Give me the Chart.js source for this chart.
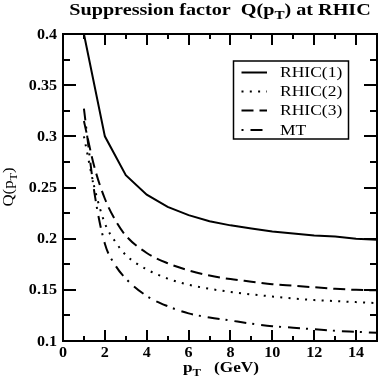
<!DOCTYPE html>
<html>
<head>
<meta charset="utf-8">
<script src="https://cdn.jsdelivr.net/npm/chart.js@4"></script>
<style>
  html, body { margin: 0; padding: 0; background: #fff; }
</style>
</head>
<body>
<canvas id="qChart" width="382" height="382"></canvas>
<script>
// p_T grid (GeV) and Q(p_T) values
const ptCoarse = [1, 2, 3, 4, 5, 6, 7, 8, 9, 10, 11, 12, 13, 14, 15];
const rhic1 = [0.4, 0.3, 0.262, 0.243, 0.231, 0.223, 0.217, 0.213, 0.210, 0.207, 0.205, 0.203, 0.202, 0.200, 0.199];

const ptFine = [1, 1.5, 2, 2.5, 3, 4, 5, 6, 7, 8, 9, 10, 11, 12, 13, 14, 15];
const rhic2 = [0.300, 0.250, 0.215, 0.197, 0.184, 0.170, 0.161, 0.155, 0.151, 0.148, 0.1455, 0.1435, 0.1415, 0.140, 0.139, 0.138, 0.137];
const rhic3 = [0.315, 0.270, 0.239, 0.218, 0.203, 0.186, 0.176, 0.169, 0.164, 0.1605, 0.158, 0.1555, 0.154, 0.1525, 0.151, 0.150, 0.1495];
const mt    = [0.327, 0.245, 0.195, 0.174, 0.161, 0.144, 0.134, 0.127, 0.123, 0.120, 0.117, 0.1145, 0.113, 0.1115, 0.110, 0.109, 0.108];

const xTicks = [0, 2, 4, 6, 8, 10, 12, 14];
const xMinor = [1, 3, 5, 7, 9, 11, 13, 15];
const yTicks = [0.1, 0.15, 0.2, 0.25, 0.3, 0.35, 0.4];
const yTickLabels = ['0.1', '0.15', '0.2', '0.25', '0.3', '0.35', '0.4'];
const yMinor = [0.125, 0.175, 0.225, 0.275, 0.325, 0.375];
const legendLabels = ['RHIC(1)', 'RHIC(2)', 'RHIC(3)', 'MT'];

const dashes = [[], [2, 6.3], [12, 6], [12, 6, 2, 7]];
const SERIF = '"Liberation Serif", "Times New Roman", serif';

function toPoints(xs, ys) {
    return xs.map((x, i) => ({ x: x, y: ys[i] }));
}

// draw text pieces (some as subscripts), stretched horizontally by sx
function drawParts(ctx, parts, x, y, size, weight, align, sx) {
    sx = sx || 1;
    const subSize = Math.round(size * 0.72);
    let total = 0;
    parts.forEach(p => {
        ctx.font = weight + ' ' + (p.sub ? subSize : size) + 'px ' + SERIF;
        p.w = ctx.measureText(p.t).width;
        total += p.w;
    });
    let cx = align === 'center' ? -total / 2 : (align === 'right' ? -total : 0);
    ctx.save();
    ctx.translate(x, y);
    ctx.scale(sx, 1);
    ctx.textAlign = 'left';
    parts.forEach(p => {
        ctx.font = weight + ' ' + (p.sub ? subSize : size) + 'px ' + SERIF;
        ctx.fillText(p.t, cx, p.sub ? size * 0.28 : 0);
        cx += p.w;
    });
    ctx.restore();
}

const framePlugin = {
    id: 'frame',
    afterDatasetsDraw(chart) {
        const ctx = chart.ctx;
        const area = chart.chartArea;
        const xs = chart.scales.x;
        const ys = chart.scales.y;
        ctx.save();
        ctx.strokeStyle = '#000';
        ctx.fillStyle = '#000';

        // frame
        ctx.lineWidth = 2;
        ctx.strokeRect(area.left, area.top, area.right - area.left, area.bottom - area.top);

        // inward ticks on all four sides
        ctx.beginPath();
        xTicks.concat(xMinor).forEach(v => {
            const len = xTicks.includes(v) ? 11 : 5;
            const px = Math.round(xs.getPixelForValue(v));
            ctx.moveTo(px, area.bottom); ctx.lineTo(px, area.bottom - len);
            ctx.moveTo(px, area.top); ctx.lineTo(px, area.top + len);
        });
        yTicks.concat(yMinor).forEach(v => {
            const len = yTicks.includes(v) ? 13 : 7;
            const py = Math.round(ys.getPixelForValue(v));
            ctx.moveTo(area.left, py); ctx.lineTo(area.left + len, py);
            ctx.moveTo(area.right, py); ctx.lineTo(area.right - len, py);
        });
        ctx.stroke();

        // tick labels
        ctx.textBaseline = 'middle';
        yTicks.forEach((v, i) => drawParts(ctx, [{ t: yTickLabels[i] }], area.left - 6,
            ys.getPixelForValue(v) + 1, 14, 'bold', 'right', 1.15));
        xTicks.forEach(v => drawParts(ctx, [{ t: String(v) }], xs.getPixelForValue(v),
            area.bottom + 12, 14, 'bold', 'center', 1.15));

        // title and axis titles
        ctx.textBaseline = 'alphabetic';
        drawParts(ctx, [{ t: 'Suppression factor  Q(p' }, { t: 'T', sub: true }, { t: ') at RHIC' }],
            220, 15, 16, 'bold', 'center', 1.26);
        drawParts(ctx, [{ t: 'p' }, { t: 'T', sub: true }, { t: '   (GeV)' }],
            221, 372, 15, 'bold', 'center', 1.15);
        ctx.save();
        ctx.translate(13, 187);
        ctx.rotate(-Math.PI / 2);
        drawParts(ctx, [{ t: 'Q(p' }, { t: 'T', sub: true }, { t: ')' }], 0, 0, 14, 'normal', 'center', 1.2);
        ctx.restore();

        // legend box
        const lx = 233.5, ly = 61, lw = 115, lh = 78;
        ctx.lineWidth = 1.5;
        ctx.strokeRect(lx, ly, lw, lh);
        const rows = [72.5, 91.5, 110.5, 130];
        ctx.lineWidth = 2;
        legendLabels.forEach((label, i) => {
            ctx.save();
            ctx.setLineDash(dashes[i]);
            if (i === 3) ctx.lineDashOffset = 18;
            ctx.beginPath();
            ctx.moveTo(241.5, rows[i]);
            ctx.lineTo(267, rows[i]);
            ctx.stroke();
            ctx.restore();
            ctx.textBaseline = 'middle';
            drawParts(ctx, [{ t: label }], 280, rows[i] + 1, 14, 'normal', 'left', 1.25);
        });
        ctx.restore();
    }
};

const series = [rhic1, rhic2, rhic3, mt];
const chartData = series.map((ys, i) => ({
    label: legendLabels[i],
    data: toPoints(i === 0 ? ptCoarse : ptFine, ys),
    borderColor: '#000',
    borderWidth: 2,
    borderDash: dashes[i],
    pointRadius: 0,
    fill: false,
    cubicInterpolationMode: i === 0 ? 'default' : 'monotone',
    tension: 0
}));

new Chart(document.getElementById('qChart').getContext('2d'), {
    type: 'line',
    data: { datasets: chartData },
    options: {
        responsive: false,
        animation: false,
        layout: { padding: { left: 63, right: 5, top: 34, bottom: 41 } },
        plugins: {
            legend: { display: false },
            tooltip: { enabled: false },
            title: { display: false }
        },
        scales: {
            x: { type: 'linear', min: 0, max: 15, display: false },
            y: { type: 'linear', min: 0.1, max: 0.4, display: false }
        }
    },
    plugins: [framePlugin]
});
</script>
</body>
</html>
